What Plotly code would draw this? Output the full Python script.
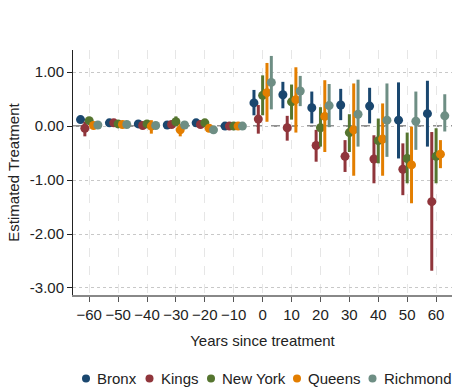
import plotly.graph_objects as go

periods = [-60, -50, -40, -30, -20, -10, 0, 10, 20, 30, 40, 50, 60]
boroughs = ["Bronx", "Kings", "New York", "Queens", "Richmond"]
colors = ["#1a476f", "#90353b", "#55752f", "#e37e00", "#6e8e84"]

bronx_est = [0.12, 0.06, 0.04, 0.02, 0.06, 0.0, 0.43, 0.58, 0.34, 0.39, 0.37, 0.11, 0.23]
bronx_lo = [0.08, 0.02, 0.0, -0.02, 0.02, -0.02, 0.20, 0.33, 0.05, 0.11, 0.05, -0.60, -0.38]
bronx_hi = [0.16, 0.10, 0.08, 0.06, 0.10, 0.02, 0.67, 0.82, 0.64, 0.69, 0.71, 0.81, 0.84]

kings_est = [-0.04, 0.06, 0.01, 0.03, 0.03, 0.0, 0.13, -0.03, -0.36, -0.56, -0.61, -0.80, -1.40]
kings_lo = [-0.19, 0.02, -0.03, -0.01, -0.01, -0.02, -0.14, -0.27, -0.66, -0.85, -1.06, -1.28, -2.68]
kings_hi = [0.08, 0.10, 0.05, 0.07, 0.07, 0.02, 0.39, 0.19, -0.07, -0.26, -0.17, -0.32, -0.11]

ny_est = [0.10, 0.04, 0.04, 0.08, 0.06, 0.0, 0.57, 0.45, -0.03, -0.12, -0.27, -0.60, -0.56]
ny_lo = [0.05, 0.0, 0.0, 0.02, 0.02, -0.02, 0.20, 0.12, -0.38, -0.48, -0.69, -1.06, -1.06]
ny_hi = [0.15, 0.08, 0.08, 0.18, 0.11, 0.02, 0.94, 0.77, 0.35, 0.22, 0.14, -0.12, -0.04]

queens_est = [0.01, 0.03, 0.0, -0.07, -0.04, 0.0, 0.62, 0.49, 0.18, -0.07, -0.24, -0.72, -0.52]
queens_lo = [-0.04, -0.01, -0.14, -0.19, -0.10, -0.02, 0.08, -0.12, -0.48, -0.92, -0.92, -1.43, -0.78]
queens_hi = [0.05, 0.07, 0.11, 0.04, 0.01, 0.02, 1.17, 1.09, 0.85, 0.79, 0.42, -0.01, -0.26]

richmond_est = [0.02, 0.03, 0.01, 0.02, -0.07, 0.0, 0.81, 0.65, 0.38, 0.22, 0.11, 0.09, 0.19]
richmond_lo = [-0.02, -0.01, -0.03, -0.02, -0.12, -0.02, 0.31, 0.37, -0.02, -0.38, -0.57, -0.44, -0.10]
richmond_hi = [0.06, 0.07, 0.05, 0.06, -0.02, 0.02, 1.30, 0.93, 0.78, 0.86, 0.79, 0.64, 0.59]

series = [
    (bronx_est, bronx_lo, bronx_hi),
    (kings_est, kings_lo, kings_hi),
    (ny_est, ny_lo, ny_hi),
    (queens_est, queens_lo, queens_hi),
    (richmond_est, richmond_lo, richmond_hi),
]
offsets = [-3.0, -1.5, 0.0, 1.5, 3.0]

xticks = list(range(-60, 61, 10))
yticks = [1, 0, -1, -2, -3]
ytext = ["1.00", "0.00", "-1.00", "-2.00", "-3.00"]

FONT = "Liberation Sans, Arial, sans-serif"
W, H = 454, 389
ML, MR, MT, MB = 73, 2, 50, 94
PW = W - ML - MR
PH = H - MT - MB

fig = go.Figure()
for name, col, off, (est, lo, hi) in zip(boroughs, colors, offsets, series):
    fig.add_trace(go.Scatter(
        x=[p + off for p in periods], y=est, mode="markers", name=name,
        marker=dict(color=col, size=9),
        error_y=dict(type="data", symmetric=False,
                     array=[h - e for h, e in zip(hi, est)],
                     arrayminus=[e - l for e, l in zip(est, lo)],
                     color=col, thickness=3, width=0),
        showlegend=False,
    ))

fig.add_shape(type="line", xref="paper", x0=0, x1=1, yref="y", y0=0, y1=0,
              line=dict(color="#6e6e6e", width=1.5, dash="dash"), layer="below")

# legend row (layout pixel positions of marker and label start)
legend_marker_px = [86, 149.5, 211, 297, 372.5]
legend_text_px = [96, 159.5, 221, 307, 382.5]
legend_y_px = 378.5
ly = (H - MB - legend_y_px) / PH
for name, col, mx, tx in zip(boroughs, colors, legend_marker_px, legend_text_px):
    fig.add_shape(type="circle", xref="paper", yref="paper",
                  xsizemode="pixel", ysizemode="pixel",
                  xanchor=(mx - ML) / PW, yanchor=ly,
                  x0=-4, x1=4, y0=-4, y1=4,
                  fillcolor=col, line=dict(width=0))
    fig.add_annotation(text=name, xref="paper", yref="paper", x=(tx - ML) / PW, y=ly,
                       xanchor="left", yanchor="middle", showarrow=False, borderpad=0,
                       font=dict(family=FONT, size=15, color="#222"))

fig.update_layout(
    width=W, height=H,
    margin=dict(l=ML, r=MR, t=MT, b=MB),
    paper_bgcolor="white", plot_bgcolor="white",
    font=dict(family=FONT, size=15, color="#222"),
    showlegend=False,
    xaxis=dict(range=[-65.6, 65.5], tickvals=xticks, ticks="outside", ticklen=5,
               tickcolor="#555", showline=True, linecolor="#888", linewidth=1.5,
               showgrid=True, gridcolor="#e6e6e6", griddash="dash", gridwidth=1,
               zeroline=False, tickfont=dict(size=15),
               title=dict(text="Years since treatment", standoff=14, font=dict(size=15))),
    yaxis=dict(range=[-3.13, 1.41], tickvals=yticks, ticktext=ytext, ticks="outside",
               ticklen=5, tickcolor="#222", showline=True, linecolor="#222", linewidth=1,
               showgrid=True, gridcolor="#c8c8c8", griddash="dot", gridwidth=1,
               zeroline=False, tickfont=dict(size=15),
               title=dict(text="Estimated Treatment", standoff=6, font=dict(size=15))),
)

fig.write_html("out.html")
